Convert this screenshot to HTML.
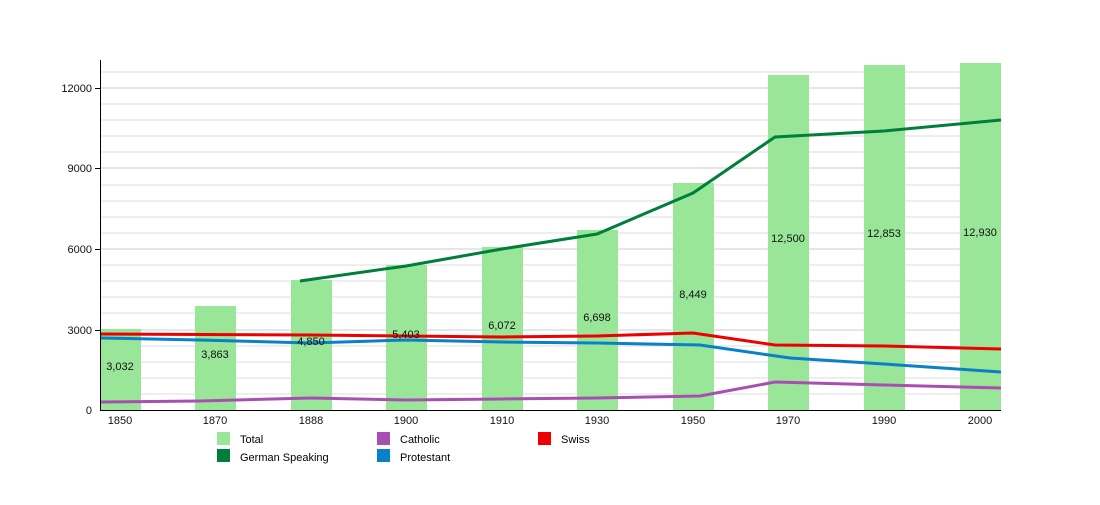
<!DOCTYPE html><html><head><style>body{margin:0;background:#fff}</style></head><body>
<svg width="1100" height="500" xmlns="http://www.w3.org/2000/svg" font-family="Liberation Sans, sans-serif" font-size="11">
<g stroke="#ddd" stroke-width="1">
<line x1="100" x2="1001" y1="394" y2="394"/><line x1="100" x2="1001" y1="378" y2="378"/><line x1="100" x2="1001" y1="362" y2="362"/><line x1="100" x2="1001" y1="346" y2="346"/><line x1="100" x2="1001" y1="330" y2="330" stroke="#ccc"/>
<line x1="100" x2="1001" y1="313" y2="313"/><line x1="100" x2="1001" y1="297" y2="297"/><line x1="100" x2="1001" y1="281" y2="281"/><line x1="100" x2="1001" y1="265" y2="265"/><line x1="100" x2="1001" y1="249" y2="249" stroke="#ccc"/>
<line x1="100" x2="1001" y1="233" y2="233"/><line x1="100" x2="1001" y1="217" y2="217"/><line x1="100" x2="1001" y1="201" y2="201"/><line x1="100" x2="1001" y1="185" y2="185"/><line x1="100" x2="1001" y1="168" y2="168" stroke="#ccc"/>
<line x1="100" x2="1001" y1="152" y2="152"/><line x1="100" x2="1001" y1="136" y2="136"/><line x1="100" x2="1001" y1="120" y2="120"/><line x1="100" x2="1001" y1="104" y2="104"/><line x1="100" x2="1001" y1="88" y2="88" stroke="#ccc"/>
<line x1="100" x2="1001" y1="72" y2="72"/>
</g>
<g fill="#99e699">
<rect x="100" y="329" width="41" height="81"/><rect x="195" y="306" width="41" height="104"/><rect x="291" y="280" width="41" height="130"/><rect x="386" y="265" width="41" height="145"/><rect x="482" y="247" width="41" height="163"/><rect x="577" y="230" width="41" height="180"/><rect x="673" y="183" width="41" height="227"/><rect x="768" y="75" width="41" height="335"/><rect x="864" y="65" width="41" height="345"/><rect x="960" y="63" width="41" height="347"/>
</g>
<g fill="none" stroke-width="3">
<polyline stroke="#007f3a" points="300,281 406,266 502,249 597,234 693,193 775,137 884,131 1001,120"/>
<polyline stroke="#ee0000" points="100,334 311,335 406,336 502,337 597,336 693,333 775,345 884,346 1001,349"/>
<polyline stroke="#0a80c8" points="100,338 200,340 311,343 406,340 502,342 597,343 700,345 790,358 884,364 1001,372"/>
<polyline stroke="#aa4fb2" points="100,402 200,401 311,398 406,400 502,399 597,398 700,396 775,382 884,385 1001,388"/>
</g>
<g text-anchor="middle" fill="#111">
<text x="120" y="370">3,032</text><text x="215" y="358">3,863</text><text x="311" y="345">4,850</text><text x="406" y="338">5,403</text><text x="502" y="329">6,072</text><text x="597" y="321">6,698</text><text x="693" y="298">8,449</text><text x="788" y="242">12,500</text><text x="884" y="237">12,853</text><text x="980" y="236">12,930</text>
</g>
<g stroke="#000" stroke-width="1">
<line x1="100.5" y1="60" x2="100.5" y2="410"/><line x1="100" y1="410.5" x2="1001" y2="410.5"/>
<line x1="95" x2="100" y1="88.5" y2="88.5"/><line x1="95" x2="100" y1="168.5" y2="168.5"/><line x1="95" x2="100" y1="249.5" y2="249.5"/><line x1="95" x2="100" y1="330.5" y2="330.5"/>
</g>
<g text-anchor="end" fill="#111"><text x="92" y="92">12000</text><text x="92" y="172">9000</text><text x="92" y="253">6000</text><text x="92" y="334">3000</text><text x="92" y="414">0</text></g>
<g text-anchor="middle" fill="#111"><text x="120" y="424">1850</text><text x="215" y="424">1870</text><text x="311" y="424">1888</text><text x="406" y="424">1900</text><text x="502" y="424">1910</text><text x="597" y="424">1930</text><text x="693" y="424">1950</text><text x="788" y="424">1970</text><text x="884" y="424">1990</text><text x="980" y="424">2000</text></g>
<rect x="217" y="432" width="13" height="13" fill="#99e699"/><text x="240" y="443">Total</text>
<rect x="217" y="449" width="13" height="13" fill="#007f3a"/><text x="240" y="461">German Speaking</text>
<rect x="377" y="432" width="13" height="13" fill="#aa4fb2"/><text x="400" y="443">Catholic</text>
<rect x="377" y="449" width="13" height="13" fill="#0a80c8"/><text x="400" y="461">Protestant</text>
<rect x="538" y="432" width="13" height="13" fill="#ee0000"/><text x="561" y="443">Swiss</text>
</svg></body></html>
